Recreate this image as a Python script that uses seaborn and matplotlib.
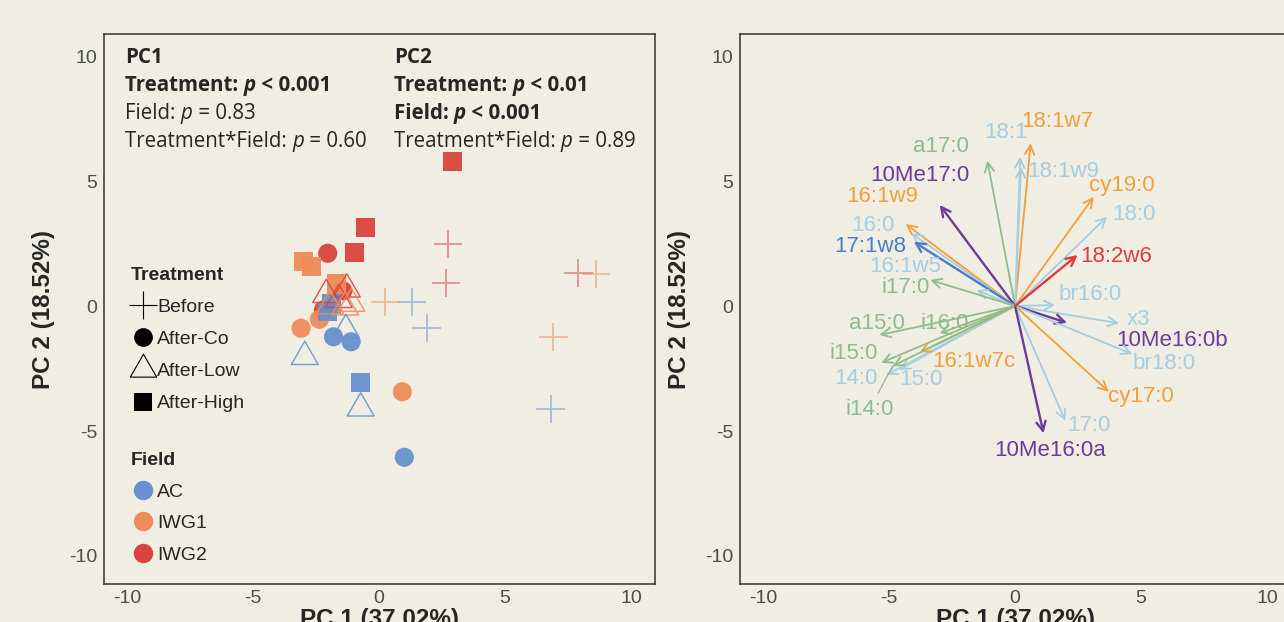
import matplotlib

matplotlib.use("Agg")
import matplotlib.pyplot as plt
import numpy as np
import pandas as pd
import seaborn as sns
from matplotlib.lines import Line2D
from matplotlib.offsetbox import AnchoredOffsetbox, HPacker, TextArea, VPacker
from matplotlib.path import Path

# ---- sample scores (PCA ordination) ----
treatments = ["Before", "After-Co", "After-Low", "After-High"]
fields = ["AC", "IWG1", "IWG2"]

score_treatment = ["Before"] * 9 + ["After-Co"] * 9 + ["After-Low"] * 9 + ["After-High"] * 9
score_field = (["IWG2"] * 3 + ["IWG1"] * 3 + ["AC"] * 3) * 4
score_pc1 = [2.74, 2.65, 7.91, 8.60, 0.24, 6.92, 1.30, 1.89, 6.81,
             -2.04, -1.44, -2.21, -2.37, -3.10, 0.92, -1.81, -1.11, 1.00,
             -2.10, -1.28, -1.60, -1.95, -1.35, -1.10, -1.32, -2.95, -0.73,
             2.91, -0.53, -0.99, -3.00, -2.67, -1.68, -1.88, -2.05, -0.73]
score_pc2 = [2.48, 0.91, 1.33, 1.28, 0.17, -1.23, 0.17, -0.89, -4.13,
             2.11, 0.61, -0.16, -0.53, -0.89, -3.43, -1.23, -1.43, -6.05,
             0.45, 0.67, 0.25, 0.00, -0.05, 0.10, -0.95, -2.03, -4.09,
             5.77, 3.15, 2.15, 1.77, 1.57, 0.88, 0.11, -0.23, -3.07]

# ---- fatty acid loadings ----
fa_names = ["18:1w7", "18:1", "18:1w9", "a17:0", "10Me17:0", "16:1w9", "16:0", "17:1w8",
            "16:1w5", "i17:0", "a15:0", "i16:0", "i15:0", "14:0", "15:0", "16:1w7c", "i14:0",
            "br16:0", "x3", "10Me16:0b", "br18:0", "cy17:0", "17:0", "10Me16:0a",
            "cy19:0", "18:0", "18:2w6"]
fa_pc1 = [0.62, 0.20, 0.24, -1.10, -2.99, -4.34, -4.12, -4.02,
          -1.53, -3.36, -5.38, -2.99, -5.31, -5.11, -4.60, -3.78, -4.86,
          1.59, 4.12, 2.06, 4.65, 3.72, 1.99, 1.13,
          3.12, 3.65, 2.48]
fa_pc2 = [6.51, 5.97, 5.57, 5.81, 4.04, 3.28, 2.91, 2.57,
          0.64, 1.04, -1.16, -1.09, -2.27, -2.76, -2.55, -1.85, -2.40,
          0.04, -0.69, -0.67, -1.92, -3.43, -4.59, -5.09,
          4.37, 3.57, 2.04]
fa_group = ["mono", "sat", "sat", "branch", "actino", "mono", "sat", "fungi",
            "sat", "branch", "branch", "branch", "branch", "sat", "sat", "mono", "branch",
            "sat", "sat", "actino", "sat", "mono", "sat", "actino",
            "mono", "sat", "fungi2"]

# label placement (repelled labels)
label_xy = {
    "18:1w7": (1.68, 7.37), "18:1": (-0.38, 6.93), "18:1w9": (1.90, 5.37),
    "a17:0": (-2.94, 6.37), "10Me17:0": (-3.76, 5.24), "16:1w9": (-5.26, 4.37),
    "16:0": (-5.65, 3.24), "17:1w8": (-5.73, 2.37), "16:1w5": (-4.36, 1.60),
    "i17:0": (-4.36, 0.74), "a15:0": (-5.50, -0.69), "i16:0": (-2.79, -0.69),
    "i15:0": (-6.42, -1.89), "14:0": (-6.33, -2.89), "15:0": (-3.74, -2.92),
    "16:1w7c": (-1.63, -2.21), "i14:0": (-5.78, -4.13), "br16:0": (2.99, 0.48),
    "x3": (4.90, -0.53), "10Me16:0b": (6.22, -1.39), "br18:0": (5.92, -2.29),
    "cy17:0": (5.00, -3.60), "17:0": (2.95, -4.76), "10Me16:0a": (1.39, -5.76),
    "cy19:0": (4.22, 4.84), "18:0": (4.70, 3.68), "18:2w6": (4.02, 1.97),
}
connector = {"i14:0"}

BG = "#F0EDE3"
field_pal = {"AC": "#6890CE", "IWG1": "#EF8C58", "IWG2": "#D9443F"}
group_pal = {"mono": "#F2A03A", "sat": "#A6CEE3", "branch": "#8FBD89",
             "actino": "#6A3D9A", "fungi": "#4A7EC6", "fungi2": "#DE3B3B"}

sns.set_theme(style="white")
plt.rcParams["font.family"] = ["Liberation Sans", "DejaVu Sans"]
plt.rcParams["axes.facecolor"] = BG
plt.rcParams["figure.facecolor"] = BG
plt.rcParams["axes.unicode_minus"] = False

df = pd.DataFrame({"PC1": score_pc1, "PC2": score_pc2,
                   "Treatment": score_treatment, "Field": score_field})

fig = plt.figure(figsize=(12.84, 6.22), dpi=100)
ax1 = fig.add_axes([0.0810, 0.0611, 0.4291, 0.8842])
ax2 = fig.add_axes([0.5763, 0.0611, 0.4291, 0.8842])

tri = Path([(-1, -0.577), (1, -0.577), (0, 1.155), (-1, -0.577)],
           [Path.MOVETO, Path.LINETO, Path.LINETO, Path.CLOSEPOLY])

# ---- left: sample scores ----
sub = df[df.Treatment == "Before"]
sns.scatterplot(data=sub, x="PC1", y="PC2", hue="Field", palette=field_pal, marker="+",
                s=420, linewidth=1.3, alpha=0.55, legend=False, ax=ax1)
sub = df[df.Treatment == "After-Co"]
sns.scatterplot(data=sub, x="PC1", y="PC2", hue="Field", palette=field_pal, marker="o",
                s=190, linewidth=0, alpha=0.95, legend=False, ax=ax1)
sub = df[df.Treatment == "After-High"]
sns.scatterplot(data=sub, x="PC1", y="PC2", hue="Field", palette=field_pal, marker="s",
                s=190, linewidth=0, alpha=0.95, legend=False, ax=ax1)
sub = df[df.Treatment == "After-Low"]
sns.scatterplot(data=sub, x="PC1", y="PC2", hue="Field", palette=field_pal, marker=tri,
                s=500, linewidth=1.0, alpha=0.9, legend=False, ax=ax1)
coll = ax1.collections[-1]
coll.set_edgecolors(coll.get_facecolors())
coll.set_facecolors("none")

# treatment / field legends
mk = dict(linestyle="None", color="black")
h_treat = [Line2D([], [], marker="+", markersize=20, markeredgewidth=0.8, **mk),
           Line2D([], [], marker="o", markersize=13.5, markeredgewidth=0, **mk),
           Line2D([], [], marker=tri, markersize=22, markerfacecolor="none",
                  markeredgewidth=0.8, **mk),
           Line2D([], [], marker="s", markersize=13.5, markeredgewidth=0, **mk)]
leg1 = ax1.legend(h_treat, treatments, title="Treatment", loc="upper left",
                  bbox_to_anchor=(0.049, 0.577), frameon=False, borderpad=0,
                  borderaxespad=0, handlelength=1.2, handletextpad=0.15,
                  labelspacing=0.75, fontsize=14, alignment="left",
                  title_fontproperties={"weight": "bold", "size": 14})
ax1.add_artist(leg1)
h_field = [Line2D([], [], marker="o", markersize=14, markeredgewidth=0,
                  linestyle="None", color=field_pal[f]) for f in fields]
ax1.legend(h_field, fields, title="Field", loc="upper left",
           bbox_to_anchor=(0.049, 0.240), frameon=False, borderpad=0,
           borderaxespad=0, handlelength=1.2, handletextpad=0.15,
           labelspacing=0.72, fontsize=14, alignment="left",
           title_fontproperties={"weight": "bold", "size": 14})

# PERMANOVA text
ann_font = ["Open Sans", "DejaVu Sans"]
ann_size = 14.8


def stat_line(label, op, val, bold):
    w = "bold" if bold else "normal"
    parts = [TextArea(label + " ", textprops=dict(family=ann_font, size=ann_size, weight=w)),
             TextArea("p", textprops=dict(family=ann_font, size=ann_size, weight=w, style="italic")),
             TextArea(f" {op} {val}", textprops=dict(family=ann_font, size=ann_size, weight=w))]
    return HPacker(children=parts, align="baseline", pad=0, sep=0)


def stat_block(title, rows):
    lines = [TextArea(title, textprops=dict(family=ann_font, size=ann_size, weight="bold"))]
    lines += [stat_line(*r) for r in rows]
    return VPacker(children=lines, align="left", pad=0, sep=5)


pc1_rows = [("Treatment:", "<", "0.001", True), ("Field:", "=", "0.83", False),
            ("Treatment*Field:", "=", "0.60", False)]
pc2_rows = [("Treatment:", "<", "0.01", True), ("Field:", "<", "0.001", True),
            ("Treatment*Field:", "=", "0.89", False)]
for xa, title, rows in [(0.038, "PC1", pc1_rows), (0.526, "PC2", pc2_rows)]:
    box = AnchoredOffsetbox(loc="upper left", child=stat_block(title, rows), pad=0,
                            borderpad=0, frameon=False, bbox_to_anchor=(xa, 0.977),
                            bbox_transform=ax1.transAxes)
    ax1.add_artist(box)

# ---- right: loadings ----
for name, x, y, g in zip(fa_names, fa_pc1, fa_pc2, fa_group):
    c = group_pal[g]
    lw = 1.7 if g in ("actino", "fungi", "fungi2") else 1.3
    ax2.annotate("", xy=(x, y), xytext=(0, 0),
                 arrowprops=dict(arrowstyle="->,head_length=0.55,head_width=0.28",
                                 color=c, lw=lw, shrinkA=0, shrinkB=0))
    lx, ly = label_xy[name]
    if name in connector:
        ax2.annotate(name, xy=(x, y), xytext=(lx, ly), color=c, fontsize=16,
                     ha="center", va="center",
                     arrowprops=dict(arrowstyle="-", color=c, lw=0.9, shrinkA=2, shrinkB=0))
    else:
        ax2.text(lx, ly, name, color=c, fontsize=16, ha="center", va="center")

for ax in (ax1, ax2):
    ax.set_xlim(-10.92, 10.95)
    ax.set_ylim(-11.12, 10.88)
    ax.set_xticks([-10, -5, 0, 5, 10])
    ax.set_yticks([-10, -5, 0, 5, 10])
    ax.tick_params(length=0, labelsize=14, labelcolor="#4D4D4D", pad=5)
    ax.tick_params(axis="x", pad=4)
    ax.set_xlabel("PC 1 (37.02%)", fontsize=17.5, fontweight="bold", labelpad=1)
    ax.set_ylabel("PC 2 (18.52%)", fontsize=17.5, fontweight="bold", labelpad=10)
    for sp in ax.spines.values():
        sp.set_color("#333333")
        sp.set_linewidth(1.1)

fig.savefig("out.png", dpi=100, facecolor=BG)
